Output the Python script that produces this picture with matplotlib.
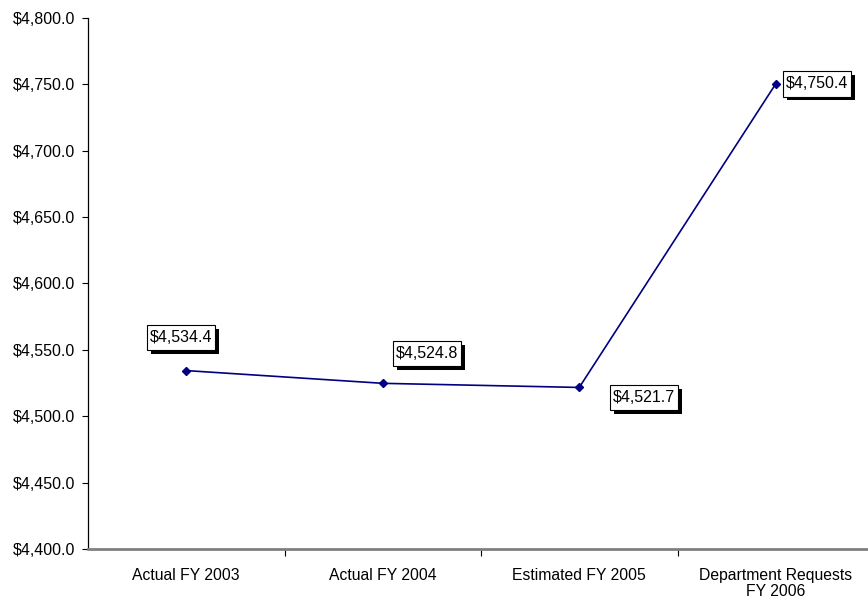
import matplotlib
matplotlib.use("Agg")
import matplotlib.pyplot as plt
import matplotlib.patheffects as pe
from matplotlib.ticker import FuncFormatter, MultipleLocator

categories = ["Actual FY 2003", "Actual FY 2004", "Estimated FY 2005",
              "Department Requests\nFY 2006"]
values = [4534.4, 4524.8, 4521.7, 4750.4]
label_offsets = [(-3.6, 23.8), (31.7, 21.6), (46.8, -7.2), (29.5, 0.0)]

plt.rcParams["font.family"] = ["Liberation Sans", "DejaVu Sans"]

fig = plt.figure(figsize=(8.68, 6.0), dpi=100)
ax = fig.add_axes([88 / 868, 51 / 600, 786 / 868, 531 / 600])

x = list(range(len(categories)))
ax.plot(x, values, color="#000080", linewidth=1.2, marker="D",
        markersize=4.5, markerfacecolor="#000080", markeredgecolor="#000080")

ax.set_xlim(-0.5, len(categories) - 0.5)
ax.set_ylim(4400, 4800)
ax.yaxis.set_major_locator(MultipleLocator(50))
ax.yaxis.set_major_formatter(FuncFormatter(lambda v, p: f"${v:,.1f}"))

ax.set_xticks([i + 0.5 for i in x[:-1]], minor=False)
ax.set_xticklabels([])
ax.set_xticks(x, minor=True)
ax.set_xticklabels(categories, minor=True, fontsize=11.3, linespacing=1.12)
ax.tick_params(axis="x", which="minor", length=0, pad=13.5)
ax.tick_params(axis="x", which="major", length=5, width=0.8, color="black")
ax.tick_params(axis="y", length=4, width=0.8, pad=5, labelsize=11.5)

for s in ("top", "right"):
    ax.spines[s].set_visible(False)
ax.spines["left"].set_linewidth(0.9)
ax.spines["bottom"].set_color("#808080")
ax.spines["bottom"].set_linewidth(2)

for xi, v, off in zip(x, values, label_offsets):
    t = ax.annotate(f"${v:,.1f}", (xi, v), xytext=off, textcoords="offset points",
                    ha="center", va="center", fontsize=11.5,
                    bbox=dict(boxstyle="square,pad=0.18", facecolor="white",
                              edgecolor="black", linewidth=0.8,
                              mutation_aspect=1.8))
    t.get_bbox_patch().set_path_effects(
        [pe.SimplePatchShadow(offset=(2.8, -2.8), shadow_rgbFace="black", alpha=1.0),
         pe.Normal()])

fig.savefig("out.png", dpi=100)
